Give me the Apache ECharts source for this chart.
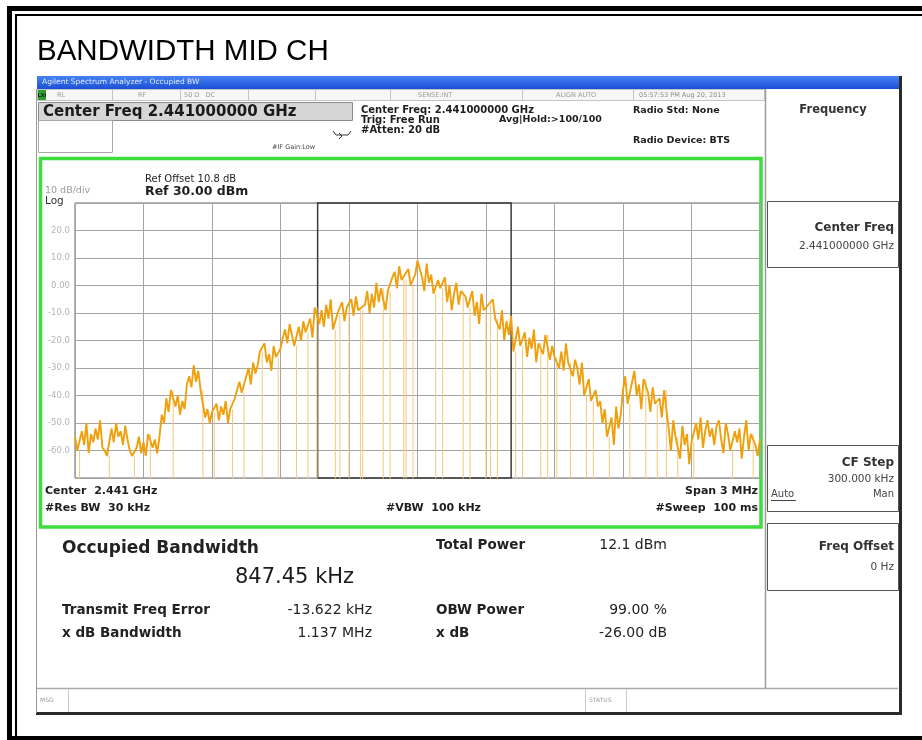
<!DOCTYPE html>
<html>
<head>
<meta charset="utf-8">
<title>BANDWIDTH MID CH</title>
<script src="https://cdn.jsdelivr.net/npm/echarts@6/dist/echarts.min.js"></script>
<style>
  html, body { margin: 0; padding: 0; background: #fff; }
  #chart { width: 922px; height: 740px; }
</style>
</head>
<body>
<div id="chart"></div>
<script>
// sweep: 3 MHz span around 2.441 GHz, one reading every 10 kHz
// -100 = sample that fell below the screen (drawn as a drop line)
const startKHz = -1500
const stepKHz = 10
const traceDbm = [
  -55, -60, -100, -53, -58, -50, -61, -54, -57, -52,
  -56, -49, -59, -60, -62, -100, -52, -57, -50, -55,
  -53, -58, -51, -56, -60, -62, -100, -59, -55, -61,
  -57, -62, -54, -100, -59, -56, -61, -55, -47, -50,
  -41, -46, -38, -100, -44, -40, -47, -42, -45, -36,
  -33, -37, -29, -35, -31, -38, -100, -48, -45, -50,
  -46, -100, -43, -49, -44, -47, -42, -50, -45, -100,
  -41, -38, -35, -39, -100, -33, -30, -36, -28, -32,
  -29, -24, -100, -21, -28, -25, -31, -22, -26, -100,
  -23, -19, -16, -21, -14, -18, -22, -100, -15, -20,
  -13, -17, -100, -12, -19, -8, -100, -14, -9, -15,
  -7, -12, -5, -16, -100, -10, -100, -6, -13, -8,
  -100, -5, -11, -4, -9, -100, -100, -7, -2, -10,
  -3, -8, 1, -6, -1, -100, -9, -2, -100, 3,
  5, -1, 7, 2, -100, -100, 6, 0, -100, 4,
  9, 6, 3, -2, 8, 1, 4, -3, -100, 2,
  -1, -100, 3, -6, 0, -9, -3, 1, -7, -2,
  -100, -4, -8, -100, -2, -11, -6, -14, -3, -9,
  -100, -7, -100, -5, -12, -100, -16, -9, -20, -13,
  -18, -11, -24, -100, -15, -22, -100, -17, -26, -19,
  -23, -16, -28, -21, -100, -25, -18, -100, -27, -22,
  -26, -100, -30, -24, -31, -21, -28, -100, -33, -27,
  -30, -36, -28, -40, -100, -34, -42, -100, -38, -44,
  -42, -50, -45, -55, -100, -48, -58, -44, -52, -47,
  -38, -33, -43, -100, -35, -31, -40, -36, -45, -34,
  -100, -39, -46, -37, -43, -100, -41, -48, -38, -100,
  -52, -60, -49, -55, -100, -63, -51, -58, -54, -65,
  -57, -100, -50, -56, -48, -59, -53, -49, -55, -52,
  -58, -51, -49, -56, -61, -50, -54, -60, -100, -53,
  -57, -52, -63, -55, -49, -60, -54, -100, -58, -62,
  -56
]
const dropLevel = -100
const levelLabels = { 20: '20.0', 10: '10.0', 0: '0.00', '-10': '-10.0', '-20': '-20.0',
  '-30': '-30.0', '-40': '-40.0', '-50': '-50.0', '-60': '-60.0' }
// occupied bandwidth edges (kHz from center): -13.622 +/- 847.45/2
const obwEdgesKHz = [-437.35, 410.10]

// body of the trace, with the dropped samples bridged
const bodyData = traceDbm.map((v, i) => [startKHz + i * stepKHz, v === dropLevel ? null : v])
// vertical drop lines from the previous reading to below the screen
const dropData = []
traceDbm.forEach((v, i) => {
  if (v !== dropLevel) return
  let j = i - 1
  while (j >= 0 && traceDbm[j] === dropLevel) j--
  const x = startKHz + i * stepKHz
  dropData.push([x, j >= 0 ? traceDbm[j] : traceDbm[i + 1]], [x, dropLevel], [x, '-'])
})

const FONT = "'DejaVu Sans', Verdana, sans-serif"
function txt(x, y, text, size, o = {}) {
  const align = o.align || 'left'
  return {
    type: 'text', x, y, silent: true,
    style: {
      text, font: (o.bold ? 'bold ' : '') + size + 'px ' + (o.family || FONT),
      fill: o.color || '#1e1e1e',
      textAlign: align, align, textVerticalAlign: 'middle', verticalAlign: 'middle'
    }
  }
}
function box(x, y, w, h, fill, stroke, lw) {
  return { type: 'rect', silent: true, shape: { x, y, width: w, height: h },
    style: { fill: fill || 'transparent', stroke: stroke || null, lineWidth: lw || 1 } }
}
function seg(x1, y1, x2, y2, stroke, lw) {
  return { type: 'line', silent: true, shape: { x1, y1, x2, y2 }, style: { stroke, lineWidth: lw || 1 } }
}

const blueBar = new echarts.graphic.LinearGradient(0, 0, 0, 1, [
  { offset: 0, color: '#4583f2' }, { offset: 1, color: '#1b4ed6' }
])

const decor = [
  // report frame
  box(9.5, 8.5, 960, 730, null, '#000', 5),
  box(16, 15, 960, 760, null, '#000', 2),
  txt(37, 52, 'BANDWIDTH MID CH', 29.5, { family: "'Liberation Sans', Arial, sans-serif", color: '#000' }),

  // analyzer window chrome
  box(37, 76, 863, 13, blueBar),
  txt(42, 82.5, 'Agilent Spectrum Analyzer - Occupied BW', 7.5, { color: '#dfe9ff' }),
  seg(900.5, 76, 900.5, 715, '#2a2a2a', 3),
  seg(36, 713.5, 902, 713.5, '#2a2a2a', 3),
  seg(36.5, 89, 36.5, 713, '#9a9a9a', 1),

  // status row
  box(37.5, 89.5, 727, 11, '#f7f7f7', '#c4c4c4', 1),
  seg(112.5, 90, 112.5, 100, '#c4c4c4'), seg(180.5, 90, 180.5, 100, '#c4c4c4'),
  seg(248.5, 90, 248.5, 100, '#c4c4c4'), seg(315.5, 90, 315.5, 100, '#c4c4c4'),
  seg(390.5, 90, 390.5, 100, '#c4c4c4'), seg(522.5, 90, 522.5, 100, '#c4c4c4'),
  seg(633.5, 90, 633.5, 100, '#c4c4c4'),
  box(38, 90, 8, 10, '#2f9d2f'),
  txt(42, 95.5, 'LXI', 5, { align: 'center', color: '#0b2a0b', bold: true }),
  txt(57, 95.5, 'RL', 6.5, { color: '#9a9a9a' }),
  txt(138, 95.5, 'RF', 6.5, { color: '#9a9a9a' }),
  txt(184, 95.5, '50 \u03a9   DC', 6.5, { color: '#9a9a9a' }),
  txt(418, 95.5, 'SENSE:INT', 6.5, { color: '#9a9a9a' }),
  txt(556, 95.5, 'ALIGN AUTO', 6.5, { color: '#9a9a9a' }),
  txt(639, 95.5, '05:57:53 PM Aug 20, 2013', 6.5, { color: '#8a8a8a' }),

  // active function box and settings
  box(38.5, 102.5, 314, 18, '#d6d6d6', '#8c8c8c', 1),
  txt(43, 112, 'Center Freq 2.441000000 GHz', 15, { bold: true, color: '#1a1a1a' }),
  box(38.5, 120.5, 74, 32, null, '#a8a8a8', 1),
  txt(272, 147, '#IF Gain:Low', 6.5, { color: '#444' }),
  { type: 'polyline', silent: true, shape: { points: [[333, 131], [336, 135], [348, 135], [351, 131]] },
    style: { stroke: '#333', lineWidth: 1, fill: null } },
  { type: 'polyline', silent: true, shape: { points: [[339, 133], [342, 136], [339, 139]] },
    style: { stroke: '#333', lineWidth: 1, fill: null } },
  txt(361, 110, 'Center Freq: 2.441000000 GHz', 10, { bold: true }),
  txt(361, 120, 'Trig: Free Run', 10, { bold: true }),
  txt(499, 120, 'Avg|Hold:>100/100', 9.5, { bold: true }),
  txt(361, 130, '#Atten: 20 dB', 10, { bold: true }),
  txt(633, 111, 'Radio Std: None', 9.5, { bold: true }),
  txt(633, 141, 'Radio Device: BTS', 9.5, { bold: true }),

  // softkey panel
  seg(765.5, 89, 765.5, 688, '#9c9c9c', 1.5),
  txt(833, 110, 'Frequency', 11.5, { align: 'center', bold: true, color: '#333' }),
  box(767.5, 201.5, 131, 66, null, '#555', 1),
  txt(894, 228, 'Center Freq', 12, { align: 'right', bold: true, color: '#333' }),
  txt(894, 246, '2.441000000 GHz', 10.5, { align: 'right', color: '#444' }),
  box(767.5, 445.5, 131, 66, null, '#555', 1),
  txt(894, 463, 'CF Step', 12, { align: 'right', bold: true, color: '#333' }),
  txt(894, 479, '300.000 kHz', 10.5, { align: 'right', color: '#444' }),
  txt(771, 494, 'Auto', 10, { color: '#444' }),
  seg(771, 500.5, 796, 500.5, '#444', 1),
  txt(894, 494, 'Man', 10, { align: 'right', color: '#444' }),
  box(767.5, 523.5, 131, 67, null, '#555', 1),
  txt(894, 547, 'Freq Offset', 12, { align: 'right', bold: true, color: '#333' }),
  txt(894, 567, '0 Hz', 10.5, { align: 'right', color: '#444' }),

  // trace window annotations
  box(40.5, 158.5, 720.5, 368.5, null, '#3fdc3f', 3.5),
  txt(145, 179, 'Ref Offset 10.8 dB', 10, {}),
  txt(145, 192, 'Ref 30.00 dBm', 12.5, { bold: true }),
  txt(45, 191, '10 dB/div', 9.5, { color: '#9a9a9a' }),
  txt(45, 201, 'Log', 10.5, { color: '#333' }),
  txt(45, 491, 'Center  2.441 GHz', 11, { bold: true }),
  txt(758, 491, 'Span 3 MHz', 11, { bold: true, align: 'right' }),
  txt(45, 508, '#Res BW  30 kHz', 11, { bold: true }),
  txt(386, 508, '#VBW  100 kHz', 11, { bold: true }),
  txt(758, 508, '#Sweep  100 ms', 11, { bold: true, align: 'right' }),

  // measurement results
  txt(62, 549, 'Occupied Bandwidth', 17, { bold: true, color: '#222' }),
  txt(235, 578, '847.45 kHz', 21, { color: '#1a1a1a' }),
  txt(436, 545, 'Total Power', 13.5, { bold: true, color: '#222' }),
  txt(667, 545, '12.1 dBm', 14, { align: 'right', color: '#222' }),
  txt(62, 610, 'Transmit Freq Error', 13.5, { bold: true, color: '#222' }),
  txt(372, 610, '-13.622 kHz', 14, { align: 'right', color: '#222' }),
  txt(436, 610, 'OBW Power', 13.5, { bold: true, color: '#222' }),
  txt(667, 610, '99.00 %', 14, { align: 'right', color: '#222' }),
  txt(62, 633, 'x dB Bandwidth', 13.5, { bold: true, color: '#222' }),
  txt(372, 633, '1.137 MHz', 14, { align: 'right', color: '#222' }),
  txt(436, 633, 'x dB', 13.5, { bold: true, color: '#222' }),
  txt(667, 633, '-26.00 dB', 14, { align: 'right', color: '#222' }),

  // message / status bar
  seg(37, 688.5, 898, 688.5, '#a8a8a8', 1.5),
  seg(68.5, 689, 68.5, 712, '#c8c8c8'),
  seg(585.5, 689, 585.5, 712, '#c8c8c8'),
  seg(626.5, 689, 626.5, 712, '#c8c8c8'),
  txt(40, 700, 'MSG', 6, { color: '#999' }),
  txt(589, 700, 'STATUS', 6, { color: '#999' })
]

const chart = echarts.init(document.getElementById('chart'), null, { renderer: 'canvas' })
chart.setOption({
  animation: false,
  backgroundColor: '#fff',
  grid: { left: 75, top: 203, width: 685, height: 275, show: true,
    borderColor: '#6a6a6a', borderWidth: 1, backgroundColor: '#fff' },
  xAxis: {
    type: 'value', min: -1500, max: 1500, interval: 300,
    axisLine: { show: false }, axisTick: { show: false }, axisLabel: { show: false },
    splitLine: { show: true, lineStyle: { color: '#a4a4a4', width: 1 } }
  },
  yAxis: {
    type: 'value', min: -70, max: 30, interval: 10,
    axisLine: { show: false }, axisTick: { show: false },
    axisLabel: {
      margin: 5, fontSize: 8.5, color: '#b4b4b4', fontFamily: FONT,
      formatter: v => levelLabels[v] || ''
    },
    splitLine: { show: true, lineStyle: { color: '#a4a4a4', width: 1 } }
  },
  graphic: { elements: decor },
  series: [
    {
      name: 'drops',
      type: 'line',
      data: dropData,
      showSymbol: false,
      connectNulls: false,
      clip: true,
      lineStyle: { color: '#f7c77c', width: 1 },
      z: 2
    },
    {
      name: 'trace',
      type: 'line',
      data: bodyData,
      showSymbol: false,
      connectNulls: true,
      clip: true,
      lineStyle: { color: '#efa00c', width: 1.9 },
      z: 3,
      markArea: {
        silent: true,
        itemStyle: { color: 'rgba(0,0,0,0)', borderColor: '#3a3a3a', borderWidth: 1.5 },
        data: [[{ xAxis: obwEdgesKHz[0], yAxis: -70 }, { xAxis: obwEdgesKHz[1], yAxis: 30 }]]
      }
    }
  ]
})
</script>
</body>
</html>
